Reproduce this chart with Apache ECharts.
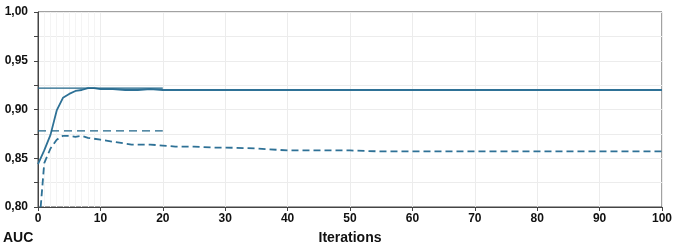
<!DOCTYPE html>
<html>
<head>
<meta charset="utf-8">
<script src="https://cdn.jsdelivr.net/npm/echarts@6/dist/echarts.min.js"></script>
<style>
  html, body { margin: 0; padding: 0; background: #fff; }
  #chart { width: 676px; height: 246px; }
</style>
</head>
<body>
<div id="chart"></div>
<script>
// values
var solidX = [0, 1, 2, 3, 4, 5, 6, 7, 8, 9, 10, 12, 14, 16, 18, 20, 22, 25, 30, 35, 40, 50, 60, 70, 80, 90, 100];
var solidY = [0.844, 0.858, 0.874, 0.899, 0.912, 0.916, 0.919, 0.920, 0.922, 0.922, 0.921, 0.921, 0.920, 0.920, 0.921, 0.920, 0.920, 0.920, 0.920, 0.920, 0.920, 0.920, 0.920, 0.920, 0.920, 0.920, 0.920];
var dashX = [0, 1, 2, 3, 4, 5, 6, 7, 8, 10, 12, 15, 18, 20, 22, 25, 28, 30, 35, 40, 45, 50, 55, 60, 70, 80, 90, 100];
var dashY = [0.766, 0.845, 0.860, 0.869, 0.873, 0.873, 0.872, 0.873, 0.871, 0.869, 0.867, 0.864, 0.864, 0.863, 0.862, 0.862, 0.861, 0.861, 0.860, 0.858, 0.858, 0.858, 0.857, 0.857, 0.857, 0.857, 0.857, 0.857];
var refSolid = [[0, 0.922], [20, 0.922]];
var refDash = [[0, 0.878], [20, 0.878]];
var minorX = [1, 2, 3, 4, 5, 6, 7, 8, 9];

var lineColor = '#2e7196';
var font = 'Liberation Sans';

function pairs(xs, ys) {
    var out = [];
    for (var i = 0; i < xs.length; i++) {
        out.push([xs[i], ys[i]]);
    }
    return out;
}

var myChart = echarts.init(document.getElementById('chart'));
var option = {
    animation: false,
    grid: {
        left: 38, right: 14, top: 12, bottom: 39,
        outerBoundsMode: 'none', containLabel: false,
        show: true, borderColor: '#444', borderWidth: 1
    },
    graphic: [{
        type: 'text', left: 3, top: 231,
        style: { text: 'AUC', font: 'bold 14px "Liberation Sans"', fill: '#111' }
    }],
    xAxis: {
        type: 'value', min: 0, max: 100, interval: 10,
        name: 'Iterations', nameLocation: 'middle', nameGap: 24,
        nameTextStyle: { fontFamily: font, fontWeight: 'bold', fontSize: 14, color: '#111' },
        axisLine: { lineStyle: { color: '#444' } },
        axisTick: { length: 4, lineStyle: { color: '#444' } },
        axisLabel: { fontFamily: font, fontWeight: 'bold', fontSize: 12, color: '#111', margin: 6 },
        splitLine: { lineStyle: { color: '#ececec' } }
    },
    yAxis: {
        type: 'value', min: 0.8, max: 1.0, interval: 0.025,
        axisLine: { show: true, lineStyle: { color: '#444' } },
        axisTick: { show: true, length: 4, lineStyle: { color: '#444' } },
        axisLabel: {
            fontFamily: font, fontWeight: 'bold', fontSize: 12, color: '#111', margin: 10,
            formatter: function (v) {
                var k = Math.round(v * 1000);
                if (k % 50 !== 0) return '';
                return v.toFixed(2).replace('.', ',');
            }
        },
        splitLine: { lineStyle: { color: '#ececec' } }
    },
    series: [
        {
            type: 'line', data: pairs(solidX, solidY), showSymbol: false, z: 3,
            lineStyle: { color: lineColor, width: 1.8 },
            markLine: {
                silent: true, symbol: 'none', label: { show: false }, z: 1,
                lineStyle: { color: '#f4f4f4', width: 1, type: 'solid', opacity: 1 },
                emphasis: { disabled: true },
                data: minorX.map(function (x) { return { xAxis: x }; })
            }
        },
        {
            type: 'line', data: pairs(dashX, dashY), showSymbol: false, z: 3,
            lineStyle: { color: lineColor, width: 1.8, type: [7, 4] }
        },
        {
            type: 'line', data: refSolid, showSymbol: false, z: 4,
            lineStyle: { color: '#1f6488', width: 1.3, type: 'solid' }
        },
        {
            type: 'line', data: refDash, showSymbol: false, z: 4,
            lineStyle: { color: '#1f6488', width: 1.3, type: [8, 5] }
        }
    ]
};
myChart.setOption(option);
</script>
</body>
</html>
